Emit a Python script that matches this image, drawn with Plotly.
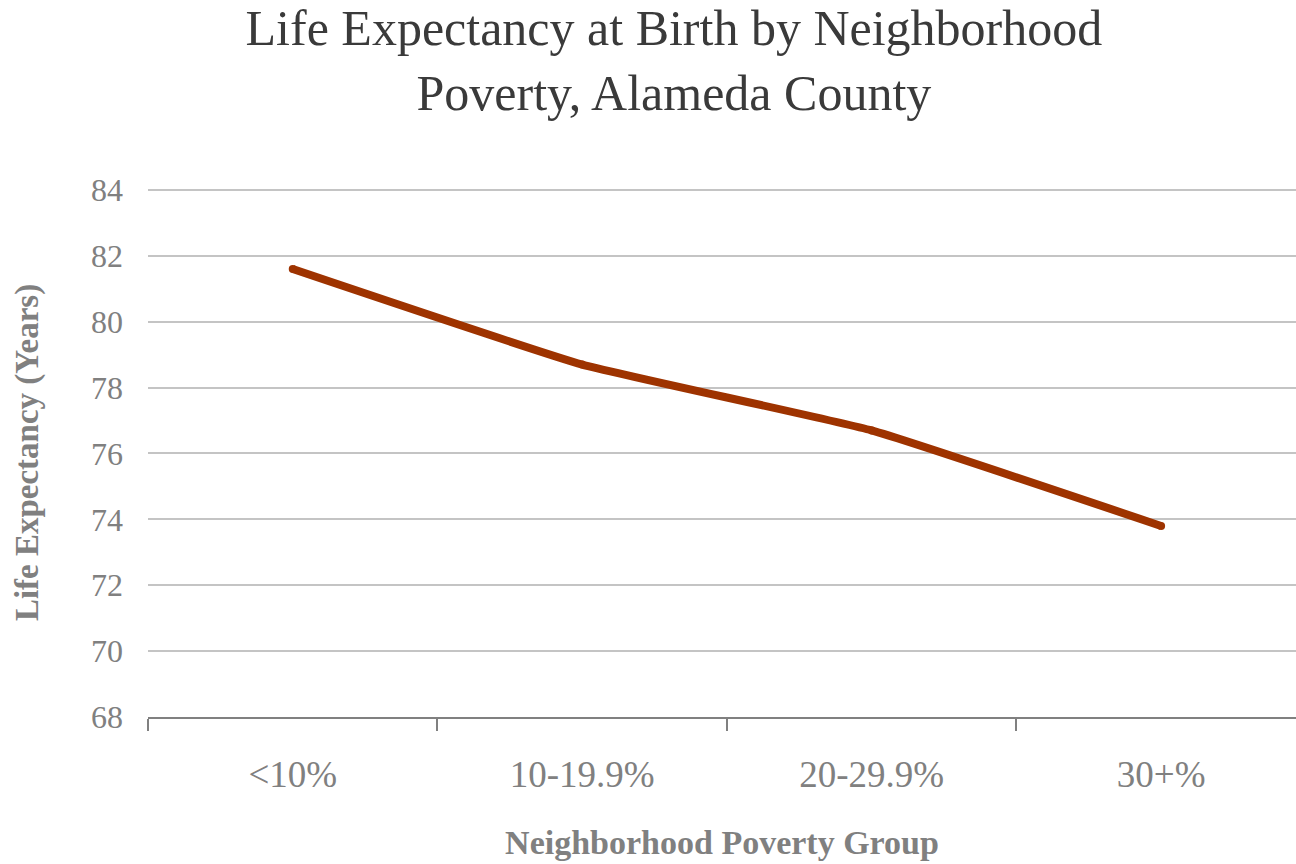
import plotly.graph_objects as go

categories = ["<10%", "10-19.9%", "20-29.9%", "30+%"]
life_expectancy = [81.6, 78.7, 76.7, 73.8]
y_ticks = [68, 70, 72, 74, 76, 78, 80, 82, 84]

title_text = "Life Expectancy at Birth by Neighborhood<br>Poverty, Alameda County"
x_title = "Neighborhood Poverty Group"
y_title = "Life Expectancy (Years)"

serif = "Liberation Serif, Times New Roman, serif"
gray = "#808080"
line_color = "#9E3300"

fig = go.Figure()
fig.add_trace(go.Scatter(
    x=categories,
    y=life_expectancy,
    mode="lines+markers",
    line=dict(color=line_color, width=8, shape="spline", smoothing=0.35),
    marker=dict(color=line_color, size=8, line=dict(width=0)),
    showlegend=False,
))

fig.update_layout(
    width=1296,
    height=864,
    paper_bgcolor="white",
    plot_bgcolor="white",
    margin=dict(l=148, r=0, t=188, b=147),
    title=dict(
        text=title_text,
        font=dict(family=serif, size=50, color="#3a3a3a"),
        x=0.52,
        xanchor="center",
        xref="container",
        y=0.948,
        yanchor="top",
        yref="container",
    ),
)

fig.update_xaxes(
    type="category",
    range=[-0.5, 3.466],
    tickson="boundaries",
    ticks="outside",
    ticklen=12,
    tickwidth=1.5,
    tickcolor=gray,
    showline=True,
    linecolor=gray,
    linewidth=1.5,
    showgrid=False,
    tickfont=dict(family=serif, size=37, color=gray),
    ticklabelstandoff=24,
    title=dict(text=x_title, font=dict(family=serif, size=34, color=gray, weight="bold"), standoff=36),
)

fig.update_yaxes(
    range=[68, 84.06],
    tickvals=y_ticks,
    showgrid=True,
    gridcolor="#c4c4c4",
    gridwidth=2,
    zeroline=False,
    showline=False,
    ticks="",
    tickfont=dict(family=serif, size=32, color=gray),
    ticklabelstandoff=24,
    title=dict(text=y_title, font=dict(family=serif, size=33, color=gray, weight="bold"), standoff=42),
)

fig.write_html(
    "out.html",
    config={"displayModeBar": False},
    post_script="document.body.style.margin='0px';document.body.style.overflow='hidden';",
)
